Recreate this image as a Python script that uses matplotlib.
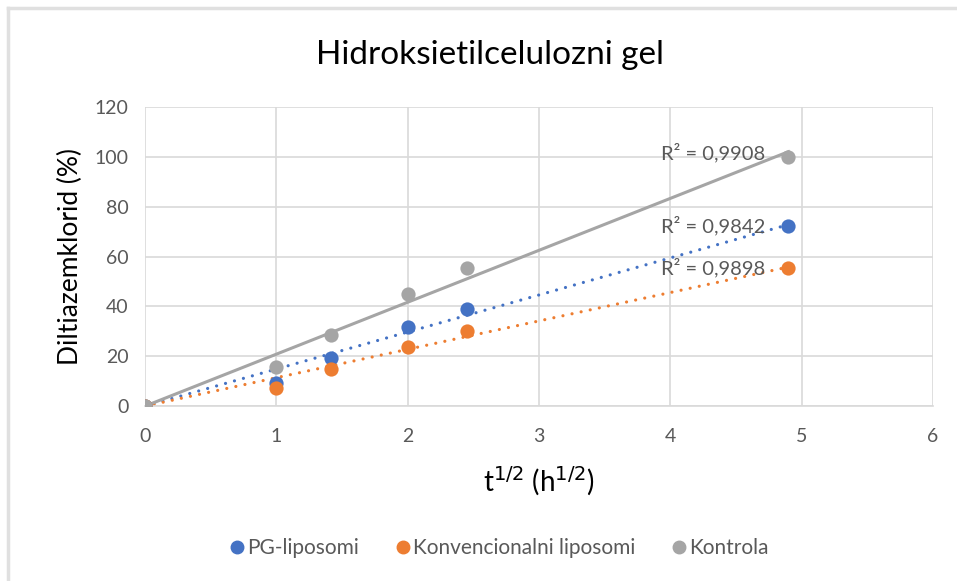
import numpy as np
import matplotlib
matplotlib.use("Agg")
import matplotlib.pyplot as plt
from matplotlib.lines import Line2D

plt.rcParams['font.family'] = ['Lato', 'DejaVu Sans']

x_vals = [0, 1, 1.414, 2, 2.449, 4.899]
pg = [0, 9.2, 19.3, 31.8, 39, 72.3]
konv = [0, 7.3, 14.9, 23.7, 30.3, 55.4]
kontrola = [0, 15.7, 28.7, 45, 55.3, 99.8]
series_names = ["PG-liposomi", "Konvencionalni liposomi", "Kontrola"]
r2_labels = ["R² = 0,9842", "R² = 0,9898", "R² = 0,9908"]
colors = ["#4472C4", "#ED7D31", "#A5A5A5"]
xticks = [0, 1, 2, 3, 4, 5, 6]
yticks = [0, 20, 40, 60, 80, 100, 120]

fig = plt.figure(figsize=(9.57, 5.81), dpi=100)
ax = fig.add_axes([0.1515, 0.301, 0.8235, 0.515])

x = np.array(x_vals)
series = [np.array(pg), np.array(konv), np.array(kontrola)]
styles = ['dot', 'dot', '-']

for y, c, ls in zip(series, colors, styles):
    slope = np.sum(x * y) / np.sum(x * x)
    xx = np.array([0, x.max()])
    if ls == '-':
        ax.plot(xx, slope * xx, color=c, lw=2.2, ls='-', zorder=2)
    else:
        ax.plot(xx, slope * xx, color=c, lw=2.3, ls=(0, (0.01, 2.9)),
                dash_capstyle='round', zorder=2)

for y, c in zip(series, colors):
    ax.scatter(x, y, s=105, color=c, zorder=3, linewidths=0)

# R² labels
label_y = [72.3, 55.4, 101.5]
for t, ly in zip(r2_labels, label_y):
    ax.text(4.72, ly, t, ha='right', va='center', fontsize=14.5, color='#595959', zorder=4)

ax.set_xlim(0, 6)
ax.set_ylim(0, 120)
ax.set_xticks(xticks)
ax.set_yticks(yticks)
ax.tick_params(axis='x', length=0, labelsize=14, labelcolor='#595959', pad=16)
ax.tick_params(axis='y', length=0, labelsize=14, labelcolor='#595959', pad=12)
ax.grid(True, color='#d9d9d9', lw=1.2)
ax.set_axisbelow(True)
for s in ['top', 'right', 'left']:
    ax.spines[s].set_visible(False)
ax.spines['bottom'].set_color('#d9d9d9')
ax.spines['bottom'].set_linewidth(1.2)

ax.set_xlabel("t$^{1/2}$ (h$^{1/2}$)", fontsize=20, color='black', labelpad=14)
ax.set_ylabel("Diltiazemklorid (%)", fontsize=19, color='black', labelpad=8)

fig.text(0.512, 0.905, "Hidroksietilcelulozni gel", ha='center', va='center', fontsize=24, color='black')

handles = [Line2D([0], [0], marker='o', ls='', color=c, markersize=9) for c in colors]
fig.legend(handles, series_names, loc='center', bbox_to_anchor=(0.52, 0.057), ncol=3,
           frameon=False, fontsize=15, labelcolor='#595959', handletextpad=0.0,
           columnspacing=1.6, handlelength=1.0)

# light border at left and top
fig.add_artist(Line2D([8/957, 8/957], [1 - 8/581, 0], color='#e0e0e0', lw=2.5, transform=fig.transFigure))
fig.add_artist(Line2D([8/957, 1], [1 - 8/581, 1 - 8/581], color='#e0e0e0', lw=2.5, transform=fig.transFigure))

fig.savefig("out.png", dpi=100)
